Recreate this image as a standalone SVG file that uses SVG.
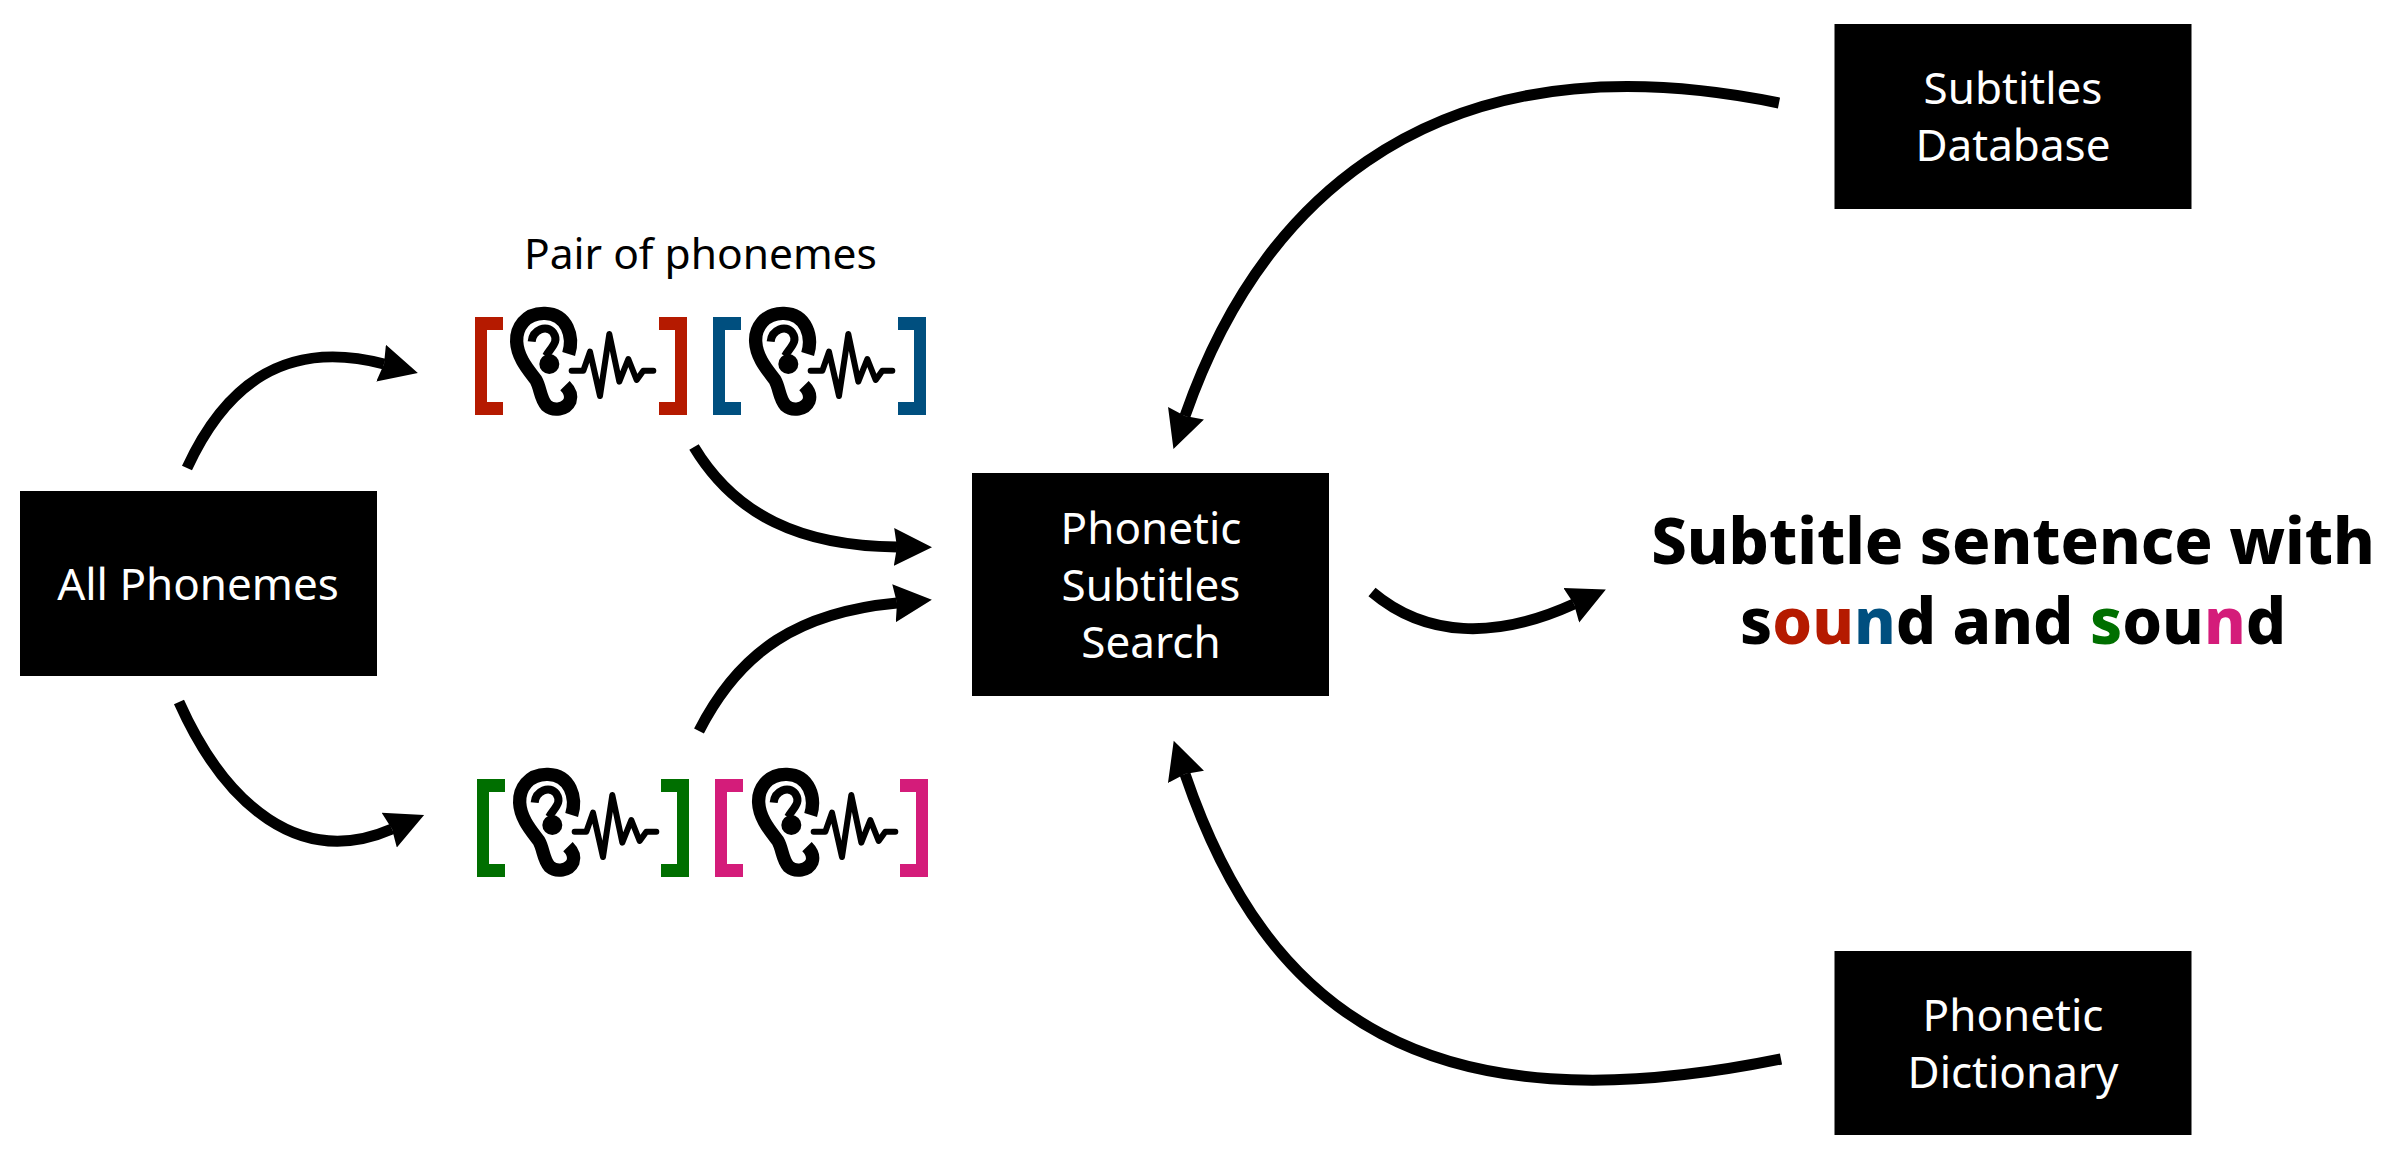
<svg xmlns="http://www.w3.org/2000/svg" width="2393" height="1160" viewBox="0 0 2393 1160">
<style>
text{font-family:"Noto Sans","Open Sans","DejaVu Sans",sans-serif;text-anchor:middle}
.box{fill:#000}
.lbl{font-size:44px;fill:#fff}
.cap{font-size:42.5px;fill:#000}
.big{font-size:63.4px;font-weight:800;fill:#000}
.arrow{fill:none;stroke:#000;stroke-width:11}
.ear{fill:none;stroke:#000;stroke-width:40}
.hook{fill:none;stroke:#000;stroke-width:24}
.wave{fill:none;stroke:#000;stroke-width:18;stroke-linecap:round;stroke-linejoin:round}
.r{fill:#b51a00}.b{fill:#004f7f}.g{fill:#006f00}.p{fill:#d41c7a}
</style>
<defs>
<marker id="head" markerUnits="userSpaceOnUse" markerWidth="50" markerHeight="50" refX="3" refY="25" orient="auto" viewBox="0 0 50 50">
<path d="M0,6 L38,25 L0,44 L3,25 Z" fill="#000"/>
</marker>
<g id="icon">
<path class="ear" d="M236,162 C252,110 232,42 165,40 C105,38 78,85 80,125 C82,175 120,215 138,240 C152,265 150,295 170,317 C190,334 228,330 240,303 C246,285 236,268 225,257"/>
<path class="hook" d="M125,125 C128,90 170,72 190,98 C208,125 185,140 168,168"/>
<circle cx="178" cy="192" r="30" fill="#000"/>
<path class="wave" d="M245,212 H280 L300,155 L330,288 L358,102 L388,245 L415,177 L440,240 L460,212 H490"/>
</g>
<path id="lb" d="M0,0 H28 V13 H12 V85 H28 V98 H0 Z"/>
<path id="rb" d="M28,0 H0 V13 H16 V85 H0 V98 H28 Z"/>
</defs>
<g id="connectors">
<path class="arrow" marker-end="url(#head)" d="M187,468 C225,385 285,338 384,364"/>
<path class="arrow" marker-end="url(#head)" d="M179,702 C225,805 300,869 392,829"/>
<path class="arrow" marker-end="url(#head)" d="M694,447 C735,515 800,546 897,547"/>
<path class="arrow" marker-end="url(#head)" d="M699,731 C740,650 800,612 897,603"/>
<path class="arrow" marker-end="url(#head)" d="M1372,592 C1425,637 1495,640 1574,604"/>
<path class="arrow" marker-end="url(#head)" d="M1779,103 C1407,27 1250,230 1185,416"/>
<path class="arrow" marker-end="url(#head)" d="M1781,1059 C1428,1131 1267,1015 1185,774"/>
</g>
<g id="all-phonemes"><rect class="box" x="20" y="491" width="357" height="185"/><text class="lbl" x="198" y="600">All Phonemes</text></g>
<g id="search"><rect class="box" x="972" y="473" width="357" height="223"/><text class="lbl" x="1151" y="544">Phonetic</text><text class="lbl" x="1151" y="601">Subtitles</text><text class="lbl" x="1151" y="658">Search</text></g>
<g id="database"><rect class="box" x="1834.5" y="24" width="357" height="185"/><text class="lbl" x="2013" y="104">Subtitles</text><text class="lbl" x="2013" y="161">Database</text></g>
<g id="dictionary"><rect class="box" x="1834.5" y="951" width="357" height="184"/><text class="lbl" x="2013" y="1031">Phonetic</text><text class="lbl" x="2013" y="1088">Dictionary</text></g>
<g id="pair-label"><text class="cap" x="700.5" y="269">Pair of phonemes</text></g>
<g id="pair-top">
<use href="#lb" class="r" x="475" y="317"/><use href="#icon" transform="translate(490,300) scale(.3333)"/><use href="#rb" class="r" x="659" y="317"/>
<use href="#lb" class="b" x="713" y="317"/><use href="#icon" transform="translate(729,300) scale(.3333)"/><use href="#rb" class="b" x="898" y="317"/>
</g>
<g id="pair-bottom">
<use href="#lb" class="g" x="477" y="779"/><use href="#icon" transform="translate(493,761) scale(.3333)"/><use href="#rb" class="g" x="661" y="779"/>
<use href="#lb" class="p" x="715" y="779"/><use href="#icon" transform="translate(732,761) scale(.3333)"/><use href="#rb" class="p" x="900" y="779"/>
</g>
<g id="result">
<text class="big" x="2013" y="564">Subtitle sentence with</text>
<text class="big" x="2013" y="644">s<tspan class="r">ou</tspan><tspan class="b">n</tspan>d and <tspan class="g">s</tspan>ou<tspan class="p">n</tspan>d</text>
</g>
</svg>
